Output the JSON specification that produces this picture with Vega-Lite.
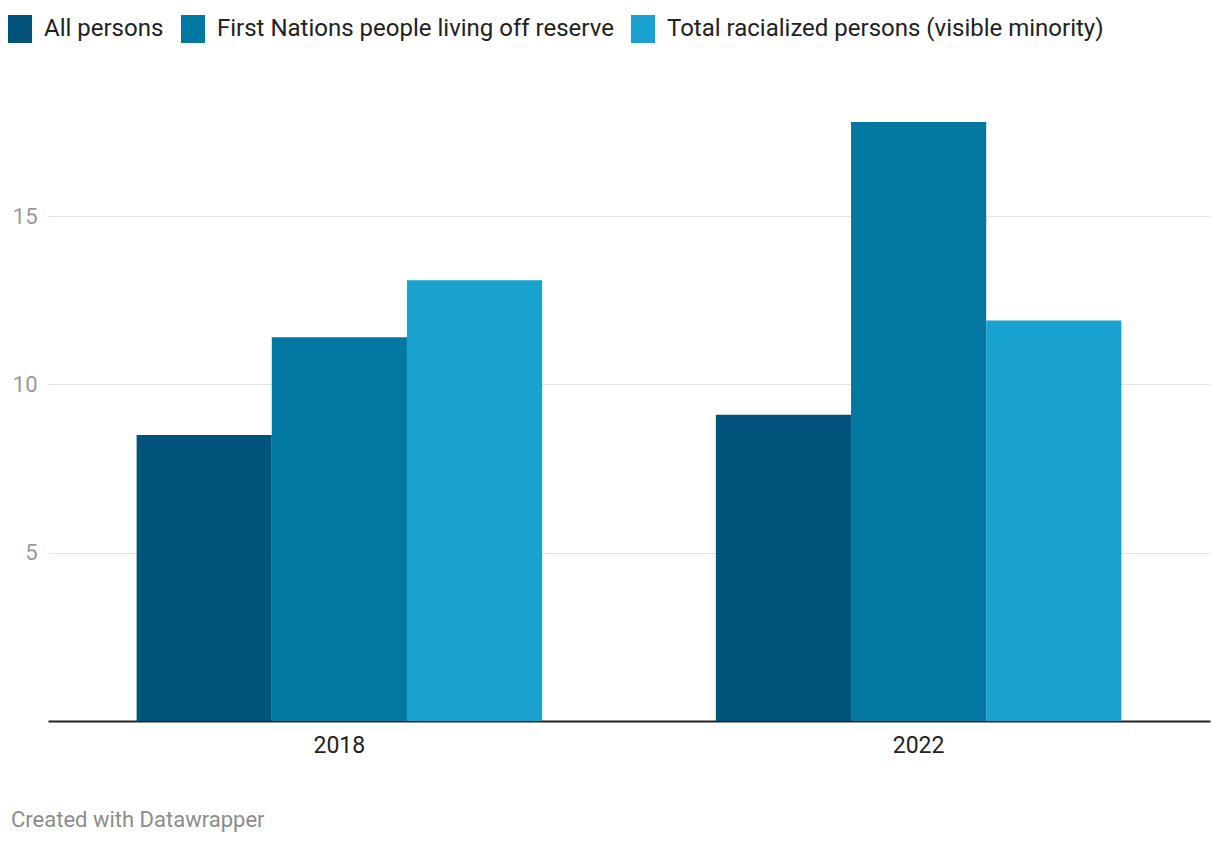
{
  "$schema": "https://vega.github.io/schema/vega-lite/v6.json",
  "autosize": {"type": "none"},
  "width": 1162,
  "height": 599,
  "padding": {"left": 48, "top": 122, "right": 10, "bottom": 123},
  "background": "white",
  "config": {
    "view": {"stroke": null},
    "font": "Roboto"
  },
  "title": {
    "text": "Created with Datawrapper",
    "orient": "bottom",
    "anchor": "start",
    "frame": "group",
    "dx": -37,
    "offset": 53,
    "fontSize": 22,
    "fontWeight": "normal",
    "color": "#8c8c8c",
    "font": "Roboto"
  },
  "data": {
    "values": [
      {"year": "2018", "group": "All persons", "value": 8.5},
      {"year": "2018", "group": "First Nations people living off reserve", "value": 11.4},
      {"year": "2018", "group": "Total racialized persons (visible minority)", "value": 13.1},
      {"year": "2022", "group": "All persons", "value": 9.1},
      {"year": "2022", "group": "First Nations people living off reserve", "value": 17.8},
      {"year": "2022", "group": "Total racialized persons (visible minority)", "value": 11.9}
    ]
  },
  "mark": {"type": "bar"},
  "encoding": {
    "x": {
      "field": "year",
      "type": "nominal",
      "scale": {"paddingInner": 0.3, "paddingOuter": 0.153},
      "axis": {
        "title": null,
        "labelAngle": 0,
        "labelFontSize": 23,
        "labelColor": "#222222",
        "labelPadding": 13,
        "ticks": false,
        "domainColor": "#222222",
        "domainWidth": 2,
        "grid": false
      }
    },
    "xOffset": {
      "field": "group",
      "type": "nominal",
      "sort": ["All persons", "First Nations people living off reserve", "Total racialized persons (visible minority)"],
      "scale": {"paddingInner": 0, "paddingOuter": 0}
    },
    "y": {
      "field": "value",
      "type": "quantitative",
      "scale": {"domain": [0, 17.8], "nice": false},
      "axis": {
        "title": null,
        "values": [5, 10, 15],
        "domain": false,
        "ticks": false,
        "labelFontSize": 22,
        "labelColor": "#9a9a9a",
        "labelPadding": 11,
        "gridColor": "#e3e3e3",
        "gridWidth": 1
      }
    },
    "color": {
      "field": "group",
      "type": "nominal",
      "sort": ["All persons", "First Nations people living off reserve", "Total racialized persons (visible minority)"],
      "scale": {
        "domain": ["All persons", "First Nations people living off reserve", "Total racialized persons (visible minority)"],
        "range": ["#01537b", "#0177a2", "#19a1cf"]
      },
      "legend": {
        "title": null,
        "orient": "none",
        "direction": "horizontal",
        "legendX": -42,
        "legendY": -107,
        "symbolType": "M-0.86,-1H0.86V1H-0.86Z",
        "symbolSize": 784,
        "symbolStrokeWidth": 0,
        "symbolOpacity": 1,
        "labelFontSize": 24,
        "labelColor": "#222222",
        "labelOffset": 10,
        "columnPadding": 15,
        "labelLimit": 600
      }
    }
  }
}
